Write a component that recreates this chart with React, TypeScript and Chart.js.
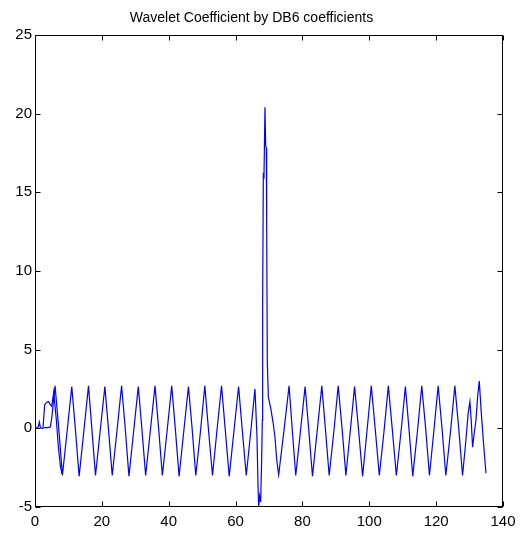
import React, { useEffect, useRef } from "react";
import { Chart, registerables } from "chart.js";

Chart.register(...registerables);

const TITLE = "Wavelet Coefficient by DB6 coefficients";
const X_TICKS = [0, 20, 40, 60, 80, 100, 120, 140];
const Y_TICKS = [-5, 0, 5, 10, 15, 20, 25];

// main trace vertices (x = sample index, y = coefficient)
const mainX = [
  0, 0.6, 1.0, 1.3, 1.6, 2.2, 3.0, 4.0, 4.6, 5.1, 5.5,
  6.0, 7.1, 8.2, 9.6, 11.0, 12.1, 13.2, 14.6, 16.0, 17.0, 18.1, 19.5,
  20.9, 22.0, 23.1, 24.5, 25.9, 27.0, 28.1, 29.5, 30.9, 32.0, 33.1, 34.5,
  35.9, 37.0, 38.1, 39.5, 40.9, 42.0, 43.1, 44.5, 45.9, 47.0, 48.1, 49.5,
  50.8, 51.9, 53.1, 54.4, 55.8, 56.9, 58.1, 59.5, 60.9, 62.0, 63.2, 64.5,
  65.8, 66.4, 66.7, 66.9, 67.2, 67.5, 67.8, 68.0, 68.1, 68.3, 68.5, 68.8,
  69.0, 69.2, 69.3, 69.5, 69.8, 70.5, 71.2, 71.8, 72.3, 72.9, 74.5,
  76.0, 77.0, 78.0, 79.4, 80.8, 81.9, 83.0, 84.4, 85.8, 86.9, 88.0, 89.4,
  90.7, 91.9, 93.0, 94.3, 95.6, 96.8, 98.0, 99.3, 100.6, 101.8, 103.0, 104.4,
  105.7, 106.9, 108.1, 109.5, 110.8, 111.9, 113.0, 114.4, 115.7, 116.9, 118.0, 119.3,
  120.6, 121.8, 122.9, 124.3, 125.6, 126.8, 127.9, 128.8, 129.6, 130.1, 130.5,
  130.9, 131.4, 131.9, 132.4, 132.9, 133.5, 134.2, 134.9,
];
const mainY = [
  0.0, 0.05, 0.1, 0.4, 0.05, 0.0, 0.05, 0.05, 0.1, 0.8, 1.7,
  2.7, 0.0, -3.0, -0.2, 2.65, -0.1, -3.05, -0.2, 2.7, 0.0, -3.0, -0.15,
  2.65, -0.1, -3.0, -0.2, 2.7, 0.0, -3.05, -0.2, 2.65, -0.1, -3.0, -0.15,
  2.7, -0.05, -3.0, -0.2, 2.7, -0.1, -3.05, -0.2, 2.65, 0.0, -3.0, -0.2,
  2.7, -0.1, -3.0, -0.2, 2.7, -0.05, -3.05, -0.2, 2.65, -0.1, -3.0, -0.3,
  2.5, -0.5, -3.5, -5.0, -4.3, -4.7, -2.0, 0.5, 8.0, 16.1, 16.0, 20.4,
  18.0, 17.8, 13.0, 4.2, 2.0, 1.3, 0.4, -0.6, -2.0, -2.95, -0.1,
  2.7, -0.2, -3.0, -0.2, 2.65, -0.1, -3.05, -0.2, 2.7, -0.1, -3.0, -0.2,
  2.7, -0.1, -3.0, -0.2, 2.65, -0.1, -3.05, -0.2, 2.7, -0.1, -3.0, -0.2,
  2.7, -0.1, -3.0, -0.2, 2.65, -0.1, -3.05, -0.2, 2.7, -0.1, -3.0, -0.2,
  2.7, -0.1, -3.0, -0.2, 2.7, -0.1, -3.0, -1.0, 1.0, 1.7, 0.5,
  -1.2, -0.3, 0.5, 2.0, 3.0, 1.0, -1.0, -2.85,
];

// short secondary trace overlapping the start
const startX = [2.4, 2.9, 3.5, 4.0, 4.6, 5.0, 5.6, 6.4, 7.0, 7.6, 8.1];
const startY = [0.05, 1.5, 1.65, 1.7, 1.5, 1.4, 2.3, 0.5, -1.2, -2.4, -2.9];

const LINE_COLOR = "#0000ff";

const boxPlugin = {
  id: "matlabBox",
  afterDatasetsDraw(chart: any) {
    const { ctx, chartArea: a, scales } = chart;
    const L = Math.round(a.left) + 0.5;
    const R = Math.round(a.right) - 0.5;
    const T = Math.round(a.top) + 0.5;
    const B = Math.round(a.bottom) - 0.5;
    const len = 5;
    ctx.save();
    ctx.strokeStyle = "#000";
    ctx.lineWidth = 1;
    ctx.strokeRect(L, T, R - L, B - T);
    ctx.beginPath();
    scales.x.ticks.forEach((t: any) => {
      const px = Math.round(scales.x.getPixelForValue(t.value)) + 0.5;
      ctx.moveTo(px, B);
      ctx.lineTo(px, B - len);
      ctx.moveTo(px, T);
      ctx.lineTo(px, T + len);
    });
    scales.y.ticks.forEach((t: any) => {
      const py = Math.round(scales.y.getPixelForValue(t.value)) + 0.5;
      ctx.moveTo(L, py);
      ctx.lineTo(L + len, py);
      ctx.moveTo(R, py);
      ctx.lineTo(R - len, py);
    });
    ctx.stroke();
    ctx.restore();
  },
};

export default function App() {
  const ref = useRef<HTMLCanvasElement | null>(null);

  useEffect(() => {
    if (!ref.current) return;
    const font = { family: "'Liberation Sans', Arial, sans-serif", size: 15 };
    const chart = new Chart(ref.current, {
      type: "line",
      data: {
        datasets: [
          {
            data: mainX.map((x, i) => ({ x, y: mainY[i] })),
            borderColor: LINE_COLOR,
            borderWidth: 1.2,
            pointRadius: 0,
            tension: 0,
            fill: false,
          },
          {
            data: startX.map((x, i) => ({ x, y: startY[i] })),
            borderColor: LINE_COLOR,
            borderWidth: 1.2,
            pointRadius: 0,
            tension: 0,
            fill: false,
          },
        ],
      },
      options: {
        animation: false,
        responsive: false,
        layout: { padding: { left: 0, right: 19, top: 0, bottom: 0 }, autoPadding: false },
        plugins: {
          legend: { display: false },
          tooltip: { enabled: false },
          title: {
            display: true,
            text: TITLE,
            color: "#000",
            font: { family: "'Liberation Sans', Arial, sans-serif", size: 14, weight: "normal" },
            padding: { top: 10, bottom: 8.2 },
          },
        },
        scales: {
          x: {
            type: "linear",
            min: 0,
            max: 140,
            grid: { display: false, drawTicks: false },
            border: { display: false },
            afterBuildTicks: (s: any) => {
              s.ticks = X_TICKS.map((v) => ({ value: v }));
            },
            afterFit: (s: any) => {
              s.height = 26;
            },
            ticks: { color: "#000", font, padding: 6, maxRotation: 0, autoSkip: false },
          },
          y: {
            type: "linear",
            min: -5,
            max: 25,
            grid: { display: false, drawTicks: false },
            border: { display: false },
            afterBuildTicks: (s: any) => {
              s.ticks = Y_TICKS.map((v) => ({ value: v }));
            },
            afterFit: (s: any) => {
              s.width = 35;
            },
            ticks: { color: "#000", font, padding: 3, autoSkip: false },
          },
        },
      },
      plugins: [boxPlugin],
    });
    return () => chart.destroy();
  }, []);

  return (
    <div style={{ position: "absolute", left: 0, top: 0, width: 522, height: 533, background: "#fff" }}>
      <canvas ref={ref} width={522} height={533} style={{ display: "block" }} />
    </div>
  );
}
